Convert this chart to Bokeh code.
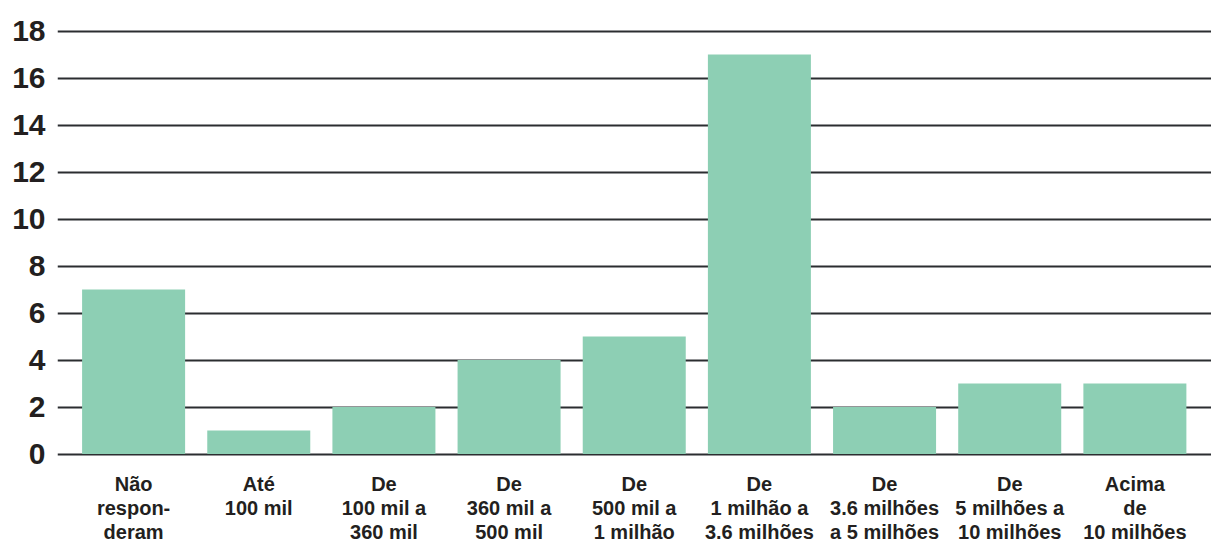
from bokeh.plotting import figure
from bokeh.models import Range1d, FixedTicker, ColumnDataSource
from bokeh.embed import file_html
from bokeh.resources import INLINE
from bokeh.core.properties import value

# Revenue bands (Portuguese labels, line breaks as shown under each bar)
categories = [
    "Não\nrespon-\nderam",
    "Até\n100 mil",
    "De\n100 mil a\n360 mil",
    "De\n360 mil a\n500 mil",
    "De\n500 mil a\n1 milhão",
    "De\n1 milhão a\n3.6 milhões",
    "De\n3.6 milhões\na 5 milhões",
    "De\n5 milhões a\n10 milhões",
    "Acima\nde\n10 milhões",
]
counts = [7, 1, 2, 4, 5, 17, 2, 3, 3]
y_ticks = [0, 2, 4, 6, 8, 10, 12, 14, 16, 18]

BAR_COLOR = "#8DCFB4"
GRID_COLOR = "#2B2D30"
TEXT_COLOR = "#231F20"
FONT = "Liberation Sans"

W, H = 1211, 542
LEFT = 57
PX_PER_UNIT = 23.5      # vertical pixels per count
ZERO_PX = 453.6         # distance of the zero line from the top
STEP_PX = 125.16        # horizontal distance between bar centres
FIRST_PX = 133.1        # centre of the first bar from the left edge

x_start = (LEFT - FIRST_PX) / STEP_PX
x_end = (W - FIRST_PX) / STEP_PX
y_end = ZERO_PX / PX_PER_UNIT
y_start = -(H - ZERO_PX) / PX_PER_UNIT

p = figure(
    width=W, height=H,
    x_range=Range1d(x_start, x_end),
    y_range=Range1d(y_start, y_end),
    x_axis_location=None,
    output_backend="svg",
    toolbar_location=None,
    min_border_left=LEFT, min_border_right=0,
    min_border_top=0, min_border_bottom=0,
)
p.outline_line_color = None
p.background_fill_color = "white"
p.border_fill_color = "white"

# bars
idx = list(range(len(categories)))
src = ColumnDataSource(dict(x=idx, top=counts))
p.vbar(x="x", top="top", bottom=0, width=0.823, source=src,
       fill_color=BAR_COLOR, line_color=None)

# horizontal grid at the even counts
p.xgrid.visible = False
p.ygrid.ticker = FixedTicker(ticks=y_ticks)
p.ygrid.grid_line_color = GRID_COLOR
p.ygrid.grid_line_width = 2

# left axis: labels only
p.yaxis.ticker = FixedTicker(ticks=y_ticks)
p.yaxis.axis_line_color = None
p.yaxis.major_tick_line_color = None
p.yaxis.minor_tick_line_color = None
p.yaxis.major_label_standoff = 6
p.yaxis.major_label_text_font = FONT
p.yaxis.major_label_text_font_style = "bold"
p.yaxis.major_label_text_font_size = "30px"
p.yaxis.major_label_text_color = TEXT_COLOR

# category labels below the zero line, one text row per line
first_baseline_px = 29.5
line_gap_px = 24.0
lx, ly, lt = [], [], []
for i, cat in enumerate(categories):
    for k, line in enumerate(cat.split("\n")):
        lx.append(i)
        ly.append(-(first_baseline_px + k * line_gap_px) / PX_PER_UNIT)
        lt.append(line)
p.text(x=lx, y=ly, text=lt,
       text_align="center", text_baseline="alphabetic",
       text_font=value(FONT), text_font_style="bold",
       text_font_size="20px", text_color=TEXT_COLOR)

open("out.html", "w").write(file_html(p, INLINE))
